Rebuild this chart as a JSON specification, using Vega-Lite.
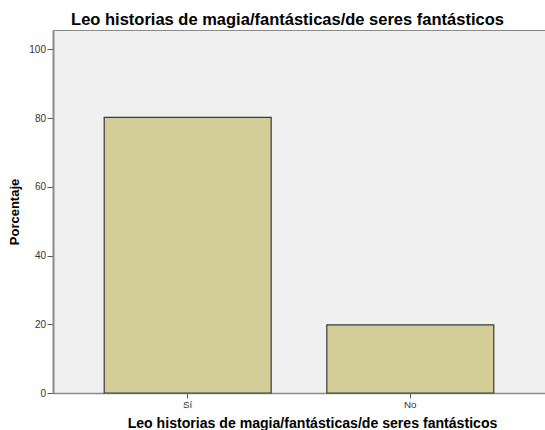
{
  "$schema": "https://vega.github.io/schema/vega-lite/v6.json",
  "autosize": "none",
  "padding": {"left": 53, "top": 30, "right": 0, "bottom": 37},
  "width": 492,
  "height": 363,
  "background": "#ffffff",
  "title": {
    "text": "Leo historias de magia/fantásticas/de seres fantásticos",
    "font": "Liberation Sans",
    "fontSize": 16.5,
    "fontWeight": "bold",
    "color": "#000000",
    "anchor": "middle",
    "dx": -11.5,
    "dy": 17.8,
    "baseline": "alphabetic",
    "offset": 6.7
  },
  "config": {
    "view": {"fill": "#f0f0f0", "stroke": "#8a8a8a", "strokeWidth": 1},
    "axis": {"grid": false, "labelFont": "Liberation Sans", "titleFont": "Liberation Sans", "labelColor": "#333333", "titleColor": "#000000", "tickColor": "#555555", "domainColor": "#8a8a8a"}
  },
  "data": {
    "values": [
      {"respuesta": "Sí", "porcentaje": 80.2},
      {"respuesta": "No", "porcentaje": 19.8}
    ]
  },
  "mark": {"type": "bar", "fill": "#d3ce97", "stroke": "#3a3a3a", "strokeWidth": 1.2},
  "encoding": {
    "x": {
      "field": "respuesta",
      "type": "nominal",
      "sort": ["Sí", "No"],
      "scale": {"paddingInner": 0.25, "paddingOuter": 0.23},
      "axis": {
        "title": "Leo historias de magia/fantásticas/de seres fantásticos",
        "titleFontSize": 14.1,
        "titleFontWeight": "bold",
        "titleBaseline": "alphabetic",
        "titleX": 259,
        "titleY": 34.5,
        "titleAlign": "center",
        "labelAngle": 0,
        "labelFontSize": 9.8,
        "tickSize": 5,
        "labelPadding": 1.5,
        "domainWidth": 1.5
      }
    },
    "y": {
      "field": "porcentaje",
      "type": "quantitative",
      "scale": {"domain": [0, 105.6], "nice": false},
      "axis": {
        "title": "Porcentaje",
        "titleFontSize": 13,
        "titleFontWeight": "bold",
        "titleBaseline": "alphabetic",
        "titleAngle": -90,
        "titleX": -34.7,
        "titleY": 181.5,
        "titleAlign": "center",
        "values": [0, 20, 40, 60, 80, 100],
        "labelFontSize": 10,
        "tickSize": 6,
        "labelPadding": 1.5,
        "domainWidth": 2
      }
    }
  }
}
